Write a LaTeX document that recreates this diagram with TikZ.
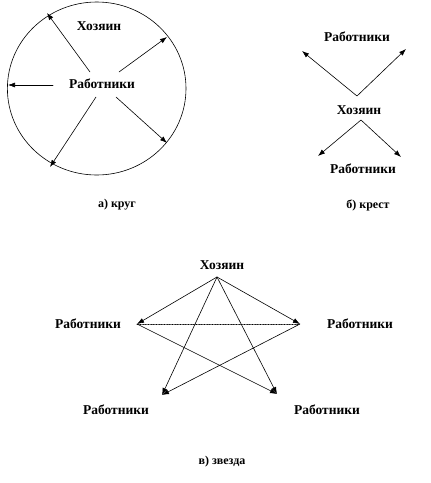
\documentclass[tikz,border=0pt]{standalone}
\usepackage{fontspec}
\setmainfont{Liberation Serif}
\usetikzlibrary{arrows.meta}

\tikzset{
  lbl/.style={font=\bfseries\fontsize{13.5}{15}\selectfont, inner sep=0pt},
  captxt/.style={font=\bfseries\fontsize{12}{14}\selectfont, inner sep=0pt},
  link/.style={-{Latex[length=7pt,width=5pt]}, line width=0.6pt}
}

\begin{document}
\begin{tikzpicture}[x=1pt, y=-1pt, line cap=round, line join=round]
  \useasboundingbox (0,0) rectangle (431,483);

  % a) circle
  \draw[line width=0.6pt] (96.7,88.5) ellipse [x radius=89.3, y radius=86.5];
  \node[lbl] (kh) at (99,26) {Хозяин};
  \node[lbl] (kw) at (102,84) {Работники};
  \coordinate (ks1) at (90,72);   \coordinate (ke1) at (47,13);
  \coordinate (ks2) at (119,72);  \coordinate (ke2) at (167,37);
  \coordinate (ks3) at (53,85);   \coordinate (ke3) at (8,85);
  \coordinate (ks4) at (96,97);   \coordinate (ke4) at (50,167);
  \coordinate (ks5) at (116,97);  \coordinate (ke5) at (167,143);
  \foreach \i in {1,...,5}
    \draw[link] (ks\i) -- (ke\i);
  \node[captxt] (ka) at (117,205) {а) круг};

  % b) cross
  \node[lbl] (cw1) at (357,37) {Работники};
  \node[lbl] (ch) at (359,110) {Хозяин};
  \node[lbl] (cw2) at (363,169) {Работники};
  \coordinate (cv1) at (357,96);
  \coordinate (cv2) at (361,120);
  \coordinate (ct1) at (302,51);  \coordinate (ct2) at (406,49);
  \coordinate (ct3) at (318,156); \coordinate (ct4) at (401,157);
  \draw[link] (cv1) -- (ct1);
  \draw[link] (cv1) -- (ct2);
  \draw[link] (cv2) -- (ct3);
  \draw[link] (cv2) -- (ct4);
  \node[captxt] (cb) at (368,205) {б) крест};

  % c) star
  \node[lbl] (sh) at (222,265) {Хозяин};
  \node[lbl] (sw1) at (88,324) {Работники};
  \node[lbl] (sw2) at (360,324) {Работники};
  \node[lbl] (sw3) at (116,410) {Работники};
  \node[lbl] (sw4) at (327,410) {Работники};
  \coordinate (top) at (217,277);
  \coordinate (pl) at (137,324);
  \coordinate (pr) at (300,324);
  \coordinate (pll) at (162,395);
  \coordinate (plr) at (277,394);
  \foreach \p in {pl,pr,pll,plr}
    \draw[link] (top) -- (\p);
  \draw[link] (pl) -- (plr);
  \draw[link] (pr) -- (pll);
  \draw[line width=0.6pt, densely dotted] (pl) -- (pr);
  \node[captxt] (sv) at (222,462) {в) звезда};
\end{tikzpicture}
\end{document}
